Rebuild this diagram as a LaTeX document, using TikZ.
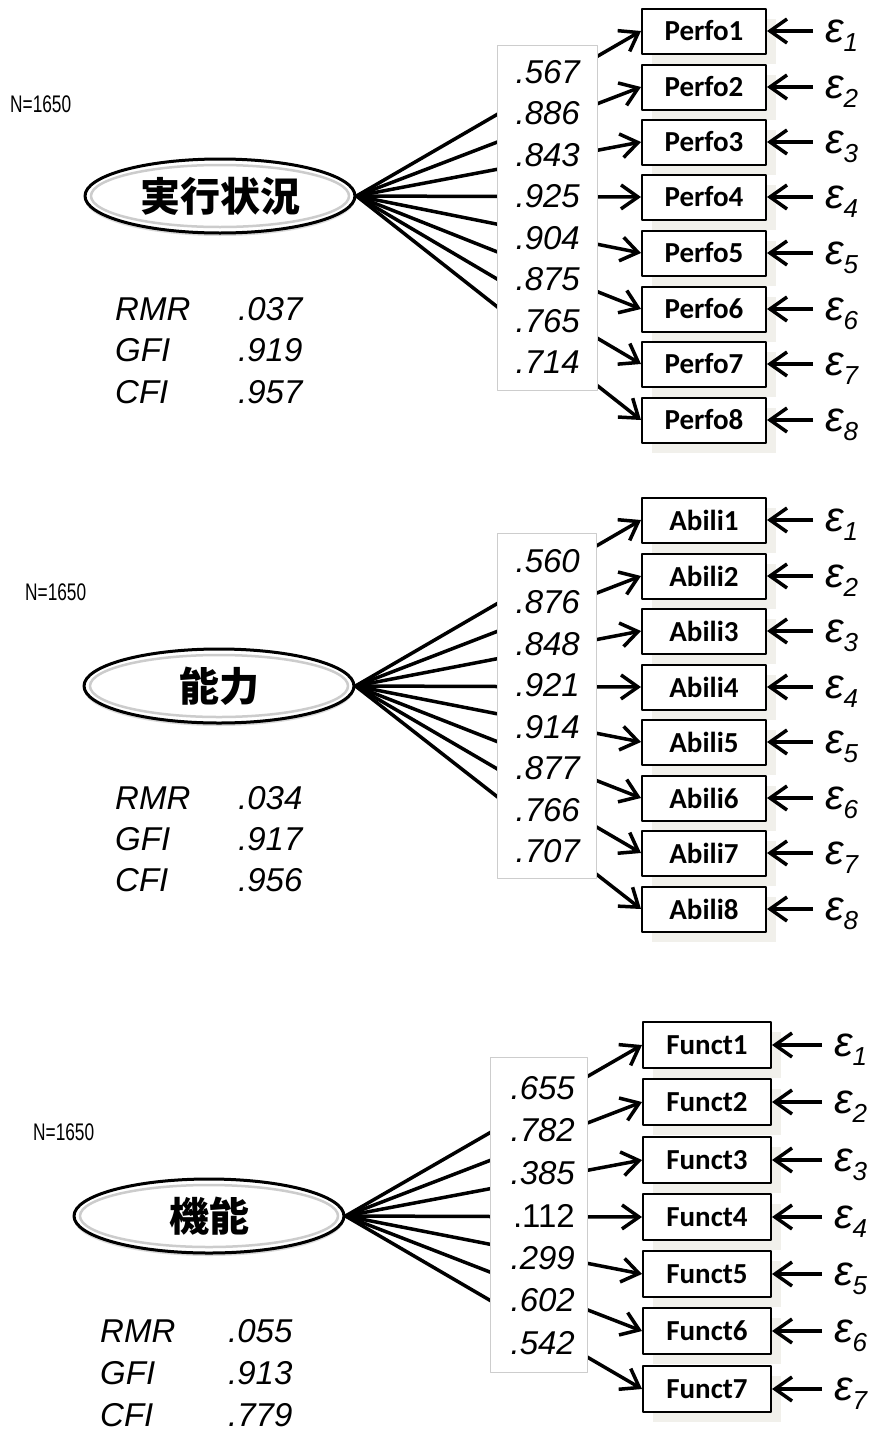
\documentclass[tikz,border=0pt]{standalone}
\usepackage{fontspec}
\usepackage{graphicx}
\setmainfont{Liberation Sans}
\newfontfamily\jpfont{Noto Sans CJK JP}
\newfontfamily\itemfont{Carlito}
\usetikzlibrary{shapes.geometric,arrows.meta,shadows}

\definecolor{shadowgray}{RGB}{241,240,235}
\definecolor{framegray}{RGB}{205,205,205}

\newcommand{\nsize}{\scalebox{0.72}[1]{\fontsize{24}{24}\selectfont N=1650}}

\tikzset{
  latent/.style={ellipse, draw, line width=3pt, fill=white, minimum width=270pt,
    minimum height=74pt, inner sep=0pt, font={\jpfont\bfseries\fontsize{40}{40}\selectfont},
    drop shadow={shadow xshift=0pt, shadow yshift=-3pt, fill=gray!30, opacity=1}},
  indicator/.style={rectangle, draw, line width=2pt, fill=white, minimum width=124pt,
    minimum height=45pt, inner sep=0pt, font={\itemfont\bfseries\fontsize{29}{29}\selectfont},
    drop shadow={shadow xshift=10pt, shadow yshift=-10pt, fill=shadowgray, opacity=1}},
  errterm/.style={anchor=base west, inner sep=0pt, font={\itshape\fontsize{42}{42}\selectfont}},
  loading/.style={line width=3.5pt, -{Straight Barb[length=17pt,width=24pt,line width=3.5pt]}},
  loadbox/.style={draw=framegray, fill=white, line width=1pt},
  weight/.style={anchor=east, inner sep=0pt, font={\itshape\fontsize{33}{33}\selectfont}},
  gof/.style={anchor=west, inner sep=0pt, font={\itshape\fontsize{33}{33}\selectfont}},
  ring/.style={gray!40, line width=2.5pt}
}
\newcommand{\sub}[1]{\raisebox{-9pt}{\fontsize{26}{26}\selectfont #1}}

\begin{document}
\begin{tikzpicture}[x=1pt,y=-1pt, line cap=butt, line join=round]
  \fill[white] (0,0) rectangle (869,1432);
  \useasboundingbox (0,0) rectangle (869,1432);

  % ---- panel 1 : Perfo ----
  \node[anchor=west, inner sep=0pt] (n1) at (10,104) {\nsize};
  \node[latent] (perf) at (220,196) {実行状況};
  \draw[ring] (perf.center) ellipse [x radius=129, y radius=31];
  \foreach \i/\y in {1/31,2/87,3/142,4/197,5/253,6/309,7/364,8/420} {
    \node[indicator] (p\i) at (704,\y) {Perfo\i};
    \node[errterm] (pe\i) at (825,\y+11) {ε\sub{\i}};
    \draw[loading] (perf.east) -- (p\i.west);
    \draw[loading] ([xshift=-12pt]pe\i.west |- p\i.east) -- (p\i.east);
  }
  \node[loadbox, minimum width=100pt, minimum height=345pt] (pl) at (547,217.5) {};
  \foreach \v [count=\k from 0] in {.567,.886,.843,.925,.904,.875,.765,.714}
    \node[weight] (pw\k) at (580,72+41.5*\k) {\v};
  \node[gof] (prmr) at (115,309) {RMR};
  \node[gof] (pgfi) at (115,350) {GFI};
  \node[gof] (pcfi) at (115,392) {CFI};
  \node[gof] (prmrv) at (238,309) {.037};
  \node[gof] (pgfiv) at (238,350) {.919};
  \node[gof] (pcfiv) at (238,392) {.957};

  % ---- panel 2 : Abili ----
  \node[anchor=west, inner sep=0pt] (n2) at (25,592) {\nsize};
  \node[latent] (abil) at (219,686) {能力};
  \draw[ring] (abil.center) ellipse [x radius=129, y radius=31];
  \foreach \i/\y in {1/520,2/576,3/631,4/687,5/742,6/798,7/853,8/909} {
    \node[indicator] (a\i) at (704,\y) {Abili\i};
    \node[errterm] (ae\i) at (825,\y+11) {ε\sub{\i}};
    \draw[loading] (abil.east) -- (a\i.west);
    \draw[loading] ([xshift=-12pt]ae\i.west |- a\i.east) -- (a\i.east);
  }
  \node[loadbox, minimum width=99pt, minimum height=345pt] (al) at (546.5,705.5) {};
  \foreach \v [count=\k from 0] in {.560,.876,.848,.921,.914,.877,.766,.707}
    \node[weight] (aw\k) at (580,561+41.5*\k) {\v};
  \node[gof] (armr) at (115,798) {RMR};
  \node[gof] (agfi) at (115,839) {GFI};
  \node[gof] (acfi) at (115,880) {CFI};
  \node[gof] (armrv) at (238,798) {.034};
  \node[gof] (agfiv) at (238,839) {.917};
  \node[gof] (acfiv) at (238,880) {.956};

  % ---- panel 3 : Funct ----
  \node[anchor=west, inner sep=0pt] (n3) at (33,1132) {\nsize};
  \node[latent] (func) at (209,1216) {機能};
  \draw[ring] (func.center) ellipse [x radius=129, y radius=31];
  \foreach \i/\y in {1/1045,2/1102,3/1160,4/1217,5/1274,6/1331,7/1389} {
    \node[indicator, minimum width=128pt, minimum height=46pt] (f\i) at (707,\y) {Funct\i};
    \node[errterm] (fe\i) at (834,\y+11) {ε\sub{\i}};
    \draw[loading] (func.east) -- (f\i.west);
    \draw[loading] ([xshift=-12pt]fe\i.west |- f\i.east) -- (f\i.east);
  }
  \node[loadbox, minimum width=97pt, minimum height=315pt] (fl) at (538.5,1214.5) {};
  \foreach \v [count=\k from 0] in {.655,.782,.385,{\upshape .112},.299,.602,.542}
    \node[weight] (fw\k) at (575,1088+42.5*\k) {\v};
  \node[gof] (frmr) at (100,1331) {RMR};
  \node[gof] (fgfi) at (100,1373) {GFI};
  \node[gof] (fcfi) at (100,1415) {CFI};
  \node[gof] (frmrv) at (228,1331) {.055};
  \node[gof] (fgfiv) at (228,1373) {.913};
  \node[gof] (fcfiv) at (228,1415) {.779};
\end{tikzpicture}
\end{document}
